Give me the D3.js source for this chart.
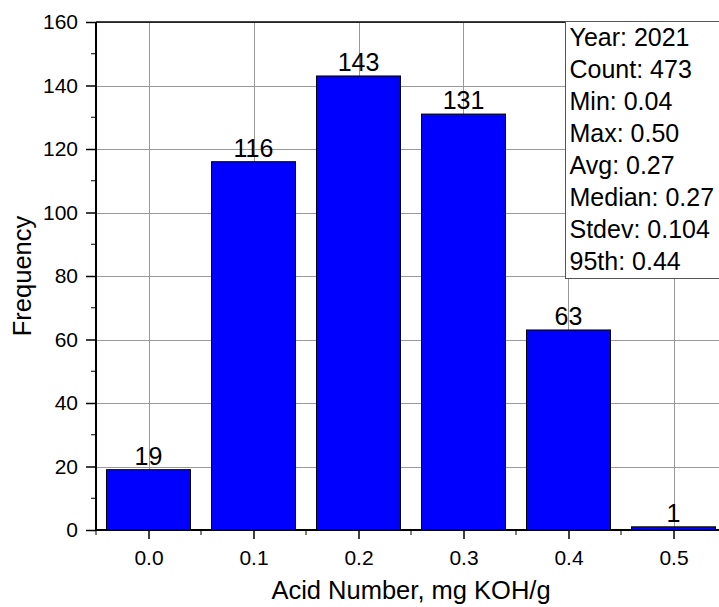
<!DOCTYPE html>
<html>
<meta charset="utf-8">
<title>Acid Number histogram</title>
<style>
body {
  margin: 0;
  font-family: "Liberation Sans", Arial, sans-serif;
  background: #fff;
}
svg text {
  font-family: "Liberation Sans", Arial, sans-serif;
}
.grid line {
  stroke: #999;
  stroke-width: 1px;
  shape-rendering: crispEdges;
}
.bar {
  fill: #0000ff;
  stroke: #000;
  stroke-width: 1px;
}
</style>
<body>
<div id="chart"></div>
<script src="https://d3js.org/d3.v7.min.js"></script>
<script>

var bins = [0.0, 0.1, 0.2, 0.3, 0.4, 0.5],
  counts = [19, 116, 143, 131, 63, 1],
  yTicks = [0, 20, 40, 60, 80, 100, 120, 140, 160],
  stats = ["Year: 2021", "Count: 473", "Min: 0.04", "Max: 0.50", "Avg: 0.27",
    "Median: 0.27", "Stdev: 0.104", "95th: 0.44"];

var W = 719, H = 607,
  margin = {top: 22, left: 96, bottom: 77},
  plotBottom = H - margin.bottom;

var x = d3.scaleLinear()
  .domain([-0.05, 0.55])
  .range([96, 726]);

var y = d3.scaleLinear()
  .domain([0, 160])
  .range([plotBottom, margin.top]);

var svg = d3.select("#chart").append("svg")
  .attr("width", W)
  .attr("height", H);

// grid
var grid = svg.append("g").attr("class", "grid");
grid.selectAll(".gx")
  .data(bins)
  .enter().append("line")
  .attr("x1", function(d) { return Math.round(x(d)) + 0.5; })
  .attr("x2", function(d) { return Math.round(x(d)) + 0.5; })
  .attr("y1", y(160))
  .attr("y2", y(0));
grid.selectAll(".gy")
  .data(yTicks.slice(1))
  .enter().append("line")
  .attr("x1", x(-0.05))
  .attr("x2", W)
  .attr("y1", function(d) { return Math.round(y(d)) + 0.5; })
  .attr("y2", function(d) { return Math.round(y(d)) + 0.5; });

// bars
var bw = x(0.08) - x(0);
svg.append("g").selectAll(".bar")
  .data(bins)
  .enter().append("rect")
  .attr("class", "bar")
  .attr("x", function(d) { return x(d) - bw / 2; })
  .attr("width", bw)
  .attr("y", function(d, i) { return y(counts[i]); })
  .attr("height", function(d, i) { return y(0) - y(counts[i]); });

svg.append("g").selectAll(".lbl")
  .data(bins)
  .enter().append("text")
  .attr("x", function(d) { return x(d); })
  .attr("y", function(d, i) { return y(counts[i]) - 5; })
  .attr("text-anchor", "middle")
  .style("font-size", "25px")
  .text(function(d, i) { return counts[i]; });

// axes
var xAxis = svg.append("g")
  .attr("transform", "translate(0," + plotBottom + ")")
  .call(d3.axisBottom(x).tickValues(bins).tickFormat(d3.format(".1f")).tickSize(9).tickPadding(11));
xAxis.selectAll(".tick text").style("font-size", "21px").attr("fill", "#000");
xAxis.append("g").selectAll("line")
  .data([-0.05, 0.05, 0.15, 0.25, 0.35, 0.45])
  .enter().append("line")
  .attr("x1", function(d) { return x(d); })
  .attr("x2", function(d) { return x(d); })
  .attr("y2", 5)
  .attr("stroke", "#000");

var yAxis = svg.append("g")
  .attr("transform", "translate(" + x(-0.05) + ",0)")
  .call(d3.axisLeft(y).tickValues(yTicks).tickSize(10).tickPadding(8));
yAxis.selectAll(".tick text").style("font-size", "21px").attr("fill", "#000");
yAxis.append("g").selectAll("line")
  .data([10, 30, 50, 70, 90, 110, 130, 150])
  .enter().append("line")
  .attr("x1", -5)
  .attr("y1", function(d) { return y(d); })
  .attr("y2", function(d) { return y(d); })
  .attr("stroke", "#000");

svg.selectAll(".domain").remove();
svg.selectAll(".tick line").attr("stroke", "#000").attr("stroke-width", 1.5);

// frame lines
svg.append("line")
  .attr("x1", x(-0.05)).attr("x2", W)
  .attr("y1", y(0)).attr("y2", y(0))
  .attr("stroke", "#000").attr("stroke-width", 2);
svg.append("line")
  .attr("x1", x(-0.05)).attr("x2", x(-0.05))
  .attr("y1", y(0) + 1).attr("y2", y(160))
  .attr("stroke", "#000").attr("stroke-width", 2);
svg.append("line")
  .attr("x1", x(-0.05)).attr("x2", W)
  .attr("y1", y(160)).attr("y2", y(160))
  .attr("stroke", "#000").attr("stroke-width", 1.5);

// axis titles
svg.append("text")
  .attr("x", (x(-0.05) + x(0.55)) / 2)
  .attr("y", 599)
  .attr("text-anchor", "middle")
  .style("font-size", "25.5px")
  .text("Acid Number, mg KOH/g");

svg.append("text")
  .attr("transform", "translate(31," + ((y(0) + y(160)) / 2) + ") rotate(-90)")
  .attr("text-anchor", "middle")
  .style("font-size", "25.5px")
  .text("Frequency");

// stats box
var box = svg.append("g").attr("transform", "translate(565.5,21.5)");
box.append("rect")
  .attr("width", 200)
  .attr("height", 257)
  .attr("fill", "#fff")
  .attr("stroke", "#555")
  .attr("stroke-width", 1);
box.selectAll("text")
  .data(stats)
  .enter().append("text")
  .attr("x", 4)
  .attr("y", function(d, i) { return 24 + i * 32; })
  .style("font-size", "25px")
  .text(function(d) { return d; });

</script>
</body>
</html>
